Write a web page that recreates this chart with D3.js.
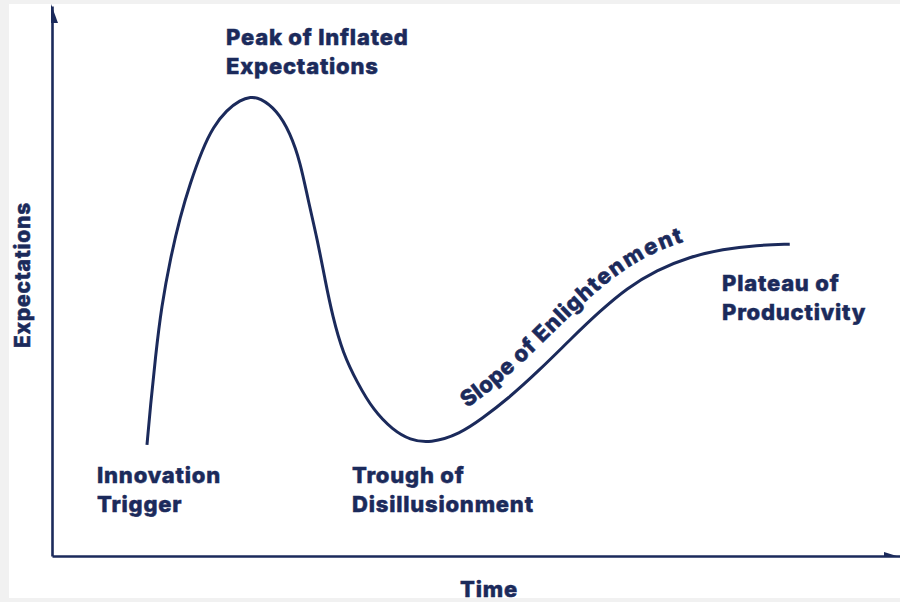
<!DOCTYPE html>
<html>
<head>
<meta charset="utf-8">
<script src="https://cdn.jsdelivr.net/npm/d3@7"></script>
<style>
  body { margin: 0; background: #f1f1f1; }
  svg { display: block; font-family: Inter, "Noto Sans", sans-serif; }
  .lbl { fill: #1b2a5b; stroke: #1b2a5b; stroke-width: 0.5px; font-weight: 800; font-size: 22px; letter-spacing: 0.8px; }
</style>
</head>
<body>
<div id="chart"></div>
<script>
// hype cycle curve, time (0-100) vs expectations (0-100)
let timeVals = [11.2, 11.6, 12.2, 12.9, 14.0, 15.1, 16.3, 17.7, 19.0, 20.6, 22.2, 23.4, 24.5,
  26.5, 28.1, 29.3, 30.2, 31.3, 32.2, 33.1, 34.3, 36.0, 37.9, 40.2, 42.2, 44.6, 48.1,
  50.8, 53.7, 57.5, 61.4, 64.6, 67.8, 71.3, 75.2, 79.1, 83.1, 87.0];
let expectVals = [20.2, 27.1, 36.2, 45.3, 54.4, 61.6, 67.8, 73.8, 78.0, 81.1, 82.9, 83.5, 83.3,
  81.1, 76.9, 71.5, 64.7, 57.5, 50.2, 43.5, 36.9, 31.5, 26.5, 22.9, 21.1, 20.5, 22.2,
  25.1, 28.5, 33.8, 39.8, 44.5, 48.7, 52.0, 54.4, 55.8, 56.5, 56.7];
let phaseNames = [
  ["Innovation", "Trigger"],
  ["Peak of Inflated", "Expectations"],
  ["Trough of", "Disillusionment"],
  ["Plateau of", "Productivity"]
];
let slopeName = "Slope of Enlightenment";
let xTitle = "Time", yTitle = "Expectations";

let svgWidth = 900, svgHeight = 602;
let navy = "#1b2a5b";

let svg = d3.select("#chart").append("svg")
  .attr("width", svgWidth)
  .attr("height", svgHeight);

// white card on grey page
svg.append("rect").attr("x", 9).attr("y", 4)
  .attr("width", svgWidth - 9).attr("height", 594)
  .attr("fill", "#ffffff");

let xScale = d3.scaleLinear().domain([0, 100]).range([52, 900]);
let yScale = d3.scaleLinear().domain([0, 100]).range([556, 6]);

// axes, no ticks
svg.append("g")
  .attr("transform", `translate(0, ${yScale(0)})`)
  .call(d3.axisBottom(xScale).ticks(0).tickSizeOuter(0))
  .select(".domain").attr("stroke", navy).attr("stroke-width", 2.6);
svg.append("g")
  .attr("transform", `translate(${xScale(0)}, 0)`)
  .call(d3.axisLeft(yScale).ticks(0).tickSizeOuter(0))
  .select(".domain").attr("stroke", navy).attr("stroke-width", 2.6);

// half arrow heads
let x0 = xScale(0), y0 = yScale(0), xEnd = xScale(100), yEnd = yScale(100);
svg.append("path")
  .attr("d", `M${xEnd},${y0 + 1} L${xEnd - 16},${y0 - 4} L${xEnd - 16},${y0 + 1} Z`)
  .attr("fill", navy);
svg.append("path")
  .attr("d", `M${x0 - 1},${yEnd - 2} L${x0 + 6},${yEnd + 17} L${x0 - 1},${yEnd + 17} Z`)
  .attr("fill", navy);

// curve
let pts = timeVals.map((t, i) => ({ t: t, e: expectVals[i] }));
let line = d3.line()
  .x(d => xScale(d.t))
  .y(d => yScale(d.e))
  .curve(d3.curveBasis);

let curve = svg.append("path")
  .datum(pts)
  .attr("id", "hype")
  .attr("d", line)
  .attr("fill", "none")
  .attr("stroke", navy)
  .attr("stroke-width", 3);

// phase labels
let labelPos = [[97, 483], [226, 45], [352, 483], [722, 291]];
phaseNames.forEach(function (lines, i) {
  let txt = svg.append("text")
    .attr("class", "lbl")
    .attr("x", labelPos[i][0])
    .attr("y", labelPos[i][1]);
  lines.forEach(function (s, j) {
    txt.append("tspan")
      .attr("x", labelPos[i][0])
      .attr("dy", j === 0 ? 0 : 29)
      .text(s);
  });
});

// slope label follows the curve
let node = curve.node();
let total = node.getTotalLength();
let lo = 0, hi = total;
for (let k = 0; k < 40; k++) {
  let mid = (lo + hi) / 2;
  if (node.getPointAtLength(mid).x < 477) lo = mid; else hi = mid;
}
svg.append("text")
  .attr("class", "lbl")
  .style("font-size", "22px")
  .attr("dy", -17)
  .append("textPath")
  .attr("href", "#hype")
  .attr("startOffset", lo)
  .text(slopeName);

// axis titles
svg.append("text")
  .attr("class", "lbl")
  .style("font-size", "21px")
  .attr("text-anchor", "middle")
  .attr("transform", "translate(30, 275) rotate(-90)")
  .text(yTitle);
svg.append("text")
  .attr("class", "lbl")
  .attr("text-anchor", "middle")
  .attr("x", 489)
  .attr("y", 597)
  .text(xTitle);
</script>
</body>
</html>
